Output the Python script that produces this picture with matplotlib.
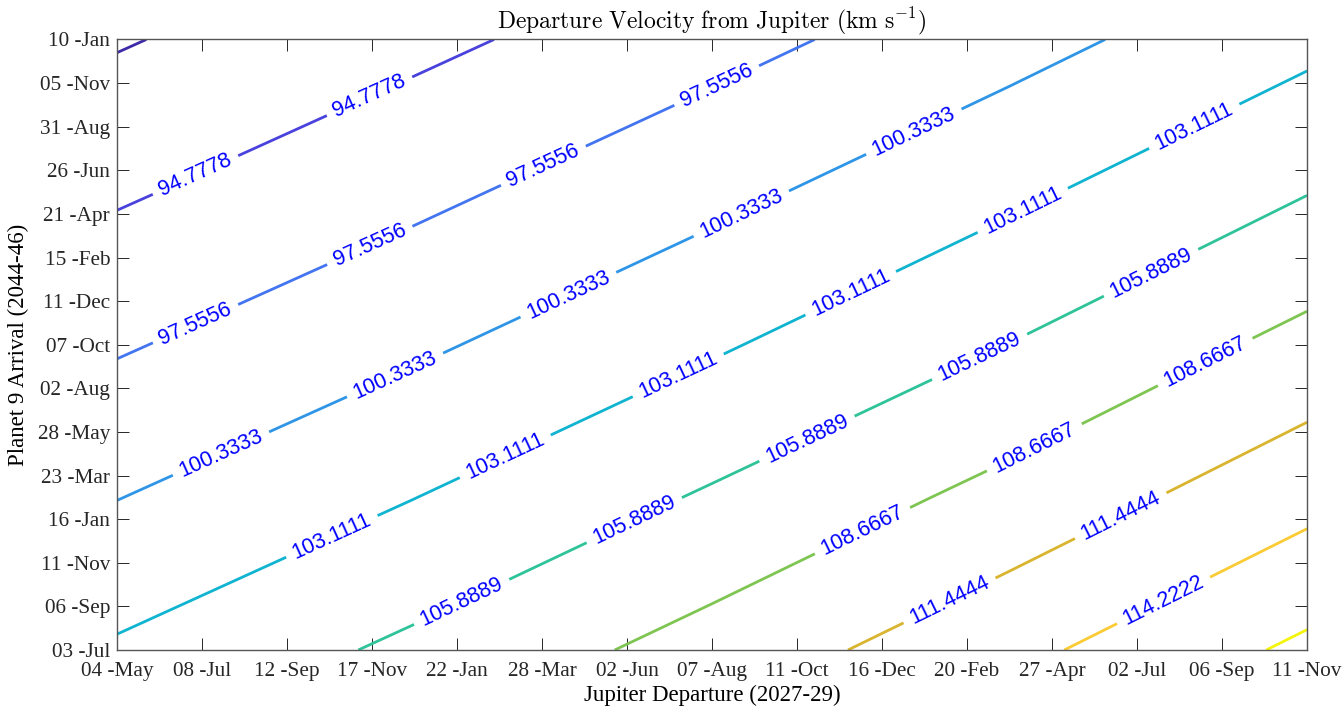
import numpy as np
import matplotlib.pyplot as plt

plt.rcParams['font.family'] = 'Liberation Sans'
plt.rcParams['mathtext.fontset'] = 'cm'

# grid nodes: days after 04-May-2027 (departure) and 03-Jul-2044 (arrival)
dep_days = [0, 230.5, 461, 691.5, 922]
arr_days = [0, 230.25, 460.5, 690.75, 921]

# departure velocity (km/s), one row per arrival node
v_arr0 = [103.44, 106.46, 109.74, 113.47, 117.56]
v_arr1 = [100.27, 103.08, 106.20, 109.55, 113.36]
v_arr2 = [97.28, 99.88, 102.78, 105.93, 109.47]
v_arr3 = [94.44, 96.91, 99.59, 102.56, 105.81]
v_arr4 = [91.77, 94.11, 96.61, 99.35, 102.41]

levels = [92, 94.7778, 97.5556, 100.3333, 103.1111, 105.8889,
          108.6667, 111.4444, 114.2222, 117]

dep_labels = ['04 -May', '08 -Jul', '12 -Sep', '17 -Nov', '22 -Jan', '28 -Mar',
              '02 -Jun', '07 -Aug', '11 -Oct', '16 -Dec', '20 -Feb', '27 -Apr',
              '02 -Jul', '06 -Sep', '11 -Nov']
arr_labels = ['03 -Jul', '06 -Sep', '11 -Nov', '16 -Jan', '23 -Mar', '28 -May',
              '02 -Aug', '07 -Oct', '11 -Dec', '15 -Feb', '21 -Apr', '26 -Jun',
              '31 -Aug', '05 -Nov', '10 -Jan']

# parula-like line colours
line_colors = ['#3e2aa8', '#4a42dc', '#4375f0', '#2f95e6', '#10b4d0',
               '#2fc39a', '#7ec552', '#d9b42e', '#fbcb36', '#f4f40f']
# where the first label sits along each line (px from its lower-left end)
label_start = [None, 86, 86, 114, 236, 114, 275, 113, 111, None]
label_gap = 191

V = np.array([v_arr0, v_arr1, v_arr2, v_arr3, v_arr4])

fig = plt.figure(figsize=(13.44, 7.09), dpi=100)
ax = fig.add_axes([0.0871, 0.0832, 0.8854, 0.8611])

cs = ax.contour(dep_days, arr_days, V, levels=levels, colors=line_colors,
                linewidths=2.0)
ax.set_xlim(dep_days[0], dep_days[-1])
ax.set_ylim(arr_days[0], arr_days[-1])

# place labels along each line, spaced like MATLAB's clabel
pts = []
for i, lvl in enumerate(levels):
    if label_start[i] is None:
        continue
    for poly in cs.get_paths()[i].to_polygons(closed_only=False):
        pix = ax.transData.transform(poly)
        if pix[0, 0] > pix[-1, 0]:
            pix = pix[::-1]
        seg = np.hypot(np.diff(pix[:, 0]), np.diff(pix[:, 1]))
        s = np.concatenate([[0], np.cumsum(seg)])
        d = label_start[i]
        while d < s[-1] - 70:
            px = np.interp(d, s, pix[:, 0])
            py = np.interp(d, s, pix[:, 1])
            pts.append(ax.transData.inverted().transform((px, py)))
            d += label_gap
ax.clabel(cs, manual=pts, inline=True, inline_spacing=8,
          fmt='%.4f', fontsize=15.5, colors='blue')

serif = 'Liberation Serif'
ax.set_xticks(np.linspace(dep_days[0], dep_days[-1], len(dep_labels)))
ax.set_xticklabels(dep_labels, fontfamily=serif, fontsize=15.3)
ax.set_yticks(np.linspace(arr_days[0], arr_days[-1], len(arr_labels)))
ax.set_yticklabels(arr_labels, fontfamily=serif, fontsize=15.3)
ax.tick_params(direction='in', length=8.6, width=0.7, colors='#262626',
               top=True, right=True)
ax.tick_params(axis='x', pad=8.5)
ax.tick_params(axis='y', pad=5)
for sp in ax.spines.values():
    sp.set_color('#555555')
    sp.set_linewidth(1.0)

ax.set_xlabel('Jupiter Departure (2027-29)', fontfamily=serif, fontsize=16.5,
              labelpad=3)
ax.set_ylabel('Planet 9 Arrival (2044-46)', fontfamily=serif, fontsize=16.5,
              labelpad=6)
ax.set_title(r'$\mathrm{Departure\ Velocity\ from\ Jupiter\ (km\ s^{-1})}$',
             fontsize=17, pad=8)

fig.savefig('out.png', dpi=100)
